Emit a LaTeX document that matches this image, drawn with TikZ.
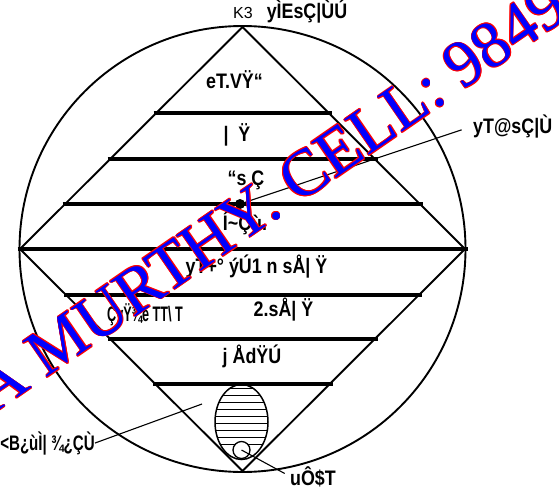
\documentclass[tikz,border=0pt]{standalone}
\usepackage{fontspec}
\setmainfont{Liberation Sans}
\newfontfamily\glyphfont[FakeStretch=0.85]{Liberation Sans}
\newfontfamily\narrowfont[FakeStretch=0.72]{Liberation Sans}
\newfontfamily\tightfont[FakeStretch=0.6]{Liberation Sans}
\newfontfamily\markfont{Liberation Serif}

\begin{document}
\begin{tikzpicture}[x=1pt, y=-1pt,
  word/.style={font=\glyphfont\bfseries\fontsize{21}{23}\selectfont, inner sep=0pt, anchor=base},
  band/.style={line width=3.2pt},
  rim/.style={line width=1.9pt},
  pointer/.style={line width=1.1pt},
  wmark/.style={font=\markfont\fontsize{66}{72}\selectfont, rotate=34.6, anchor=base west, inner sep=0pt}]
\useasboundingbox (0,0) rectangle (559,498);

\draw[rim] (242.5,249) circle [radius=223];
\draw[rim] (242.5,27) -- (465,249) -- (242.5,471) -- (20,249) -- cycle;

\foreach \h in {113,159,204,249,295,339,384}{
  \pgfmathsetmacro\w{225-abs(\h-249)}
  \draw[band] (242.5-\w,\h) -- (242.5+\w,\h);
}

\coordinate (egg) at (241.5,422);
\begin{scope}
\clip (egg) ellipse [x radius=26.5, y radius=37.5];
\foreach \h in {388,395,...,444}
  \draw[line width=0.8pt] (210,\h) -- (275,\h);
\end{scope}
\draw[line width=1.5pt] (egg) ellipse [x radius=26.5, y radius=37.5];
\node[circle, draw, fill=white, line width=1.3pt, inner sep=0pt, minimum size=17pt] (seed) at (241.5,450) {};
\node[circle, fill, inner sep=0pt, minimum size=10pt] (dot) at (240,204) {};

\node[anchor=base west, inner sep=0pt] (n0) at (233,18.5) {{\fontsize{16}{18}\selectfont K3}\hspace{14pt}{\glyphfont\bfseries\fontsize{21}{23}\selectfont yÌEsÇ|ÙÚ}};
\node[word] (n1) at (234.5,88) {eT.VŸ“};
\node[word] (n2) at (237,141) {|\ \ Ÿ};
\node[word] (n3) at (246,185) {“s Ç};
\node[word] (n4) at (245,230) {Í\~{}Çù.};
\node[word] (n5) at (256.5,273) {yT+° ýÚ1 n sÅ| Ÿ};
\node[word, font=\tightfont\bfseries\fontsize{21}{23}\selectfont] (n6) at (145,321) {ÇyŸ¾e TT\textbackslash\ T};
\node[word] (n7) at (283.5,316) {2.sÅ| Ÿ};
\node[word] (n8) at (252,363) {j ÅdŸÚ};
\node[word, anchor=base west] (n9) at (473,133) {yT@sÇ|Ù};
\node[word, anchor=base east, font=\narrowfont\bfseries\fontsize{21}{23}\selectfont] (n10) at (95,450) {<B¿ùÌ| ¾¿ÇÙ};
\node[word, anchor=base west] (n11) at (290,485) {uÔ\$T};
\coordinate (tip) at (202,404);

\draw[pointer, shorten >=12pt] (dot.center) -- (n9.west);
\draw[pointer] (n10.east) -- (tip);
\draw[pointer, shorten >=6pt] (seed.center) -- (n11.west);

\begin{scope}
\clip (0,0) rectangle (559,498);
\coordinate (wm) at (-7,415);
\foreach \dx/\dy in {0.8/0,-0.8/0,0/0.8,0/-0.8,0.6/0.6,-0.6/0.6,0.6/-0.6,-0.6/-0.6}
  \node[wmark, text=red] at ([shift={(\dx,\dy)}]wm) {A MURTHY. CELL: 9849};
\node[wmark, text=blue] (wmtext) at (wm) {A MURTHY. CELL: 9849};
\end{scope}
\end{tikzpicture}
\end{document}
